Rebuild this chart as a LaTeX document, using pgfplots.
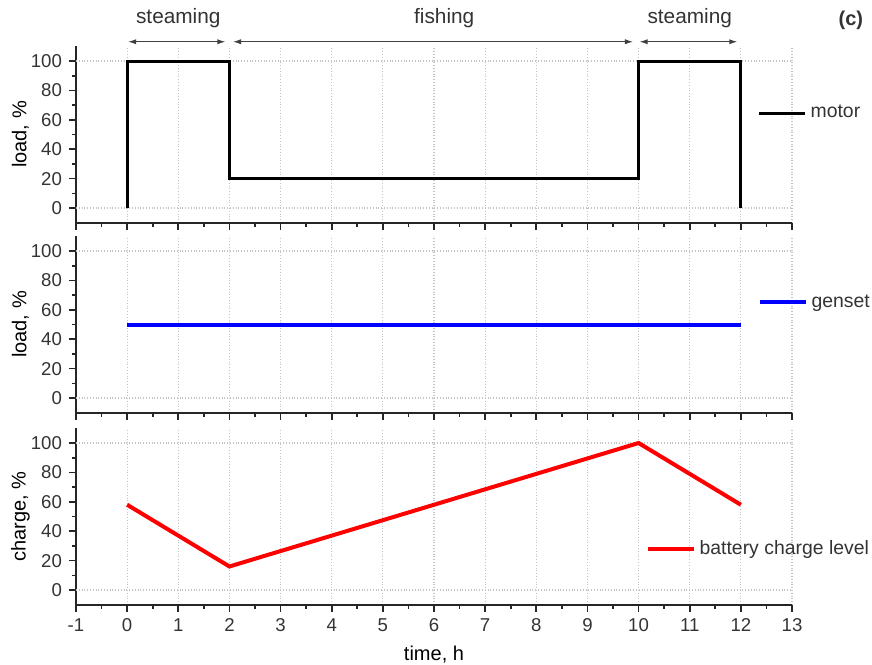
\documentclass[border=0pt]{standalone}
\usepackage{pgfplots}
\pgfplotsset{compat=1.18}
\usetikzlibrary{arrows.meta}
\usepackage{fontspec}
\setmainfont{Liberation Sans}

\definecolor{txt}{HTML}{333333}
\definecolor{gridc}{HTML}{C4C4C4}

\pgfplotsset{
 panel/.style={
  scale only axis, width=358pt, height=88.2pt,
  xmin=-1, xmax=13, ymin=-10, ymax=110,
  axis lines=left, axis line style={-, line width=0.9pt, black!85},
  xtick={-1,0,...,13}, ytick={0,20,...,100},
  minor x tick num=1, minor y tick num=1,
  tick align=outside, major tick length=3.5pt, minor tick length=2pt,
  every tick/.style={line width=0.8pt, black!85},
  xmajorgrids, major grid style={densely dotted, gridc, line width=0.6pt},
  extra y ticks={0,100}, extra y tick labels={,},
  extra y tick style={grid=major, major tick length=0pt},
  tick label style={font=\fontsize{9.3}{11}\selectfont, text=txt},
  /pgf/number format/assume math mode=true,
  label style={font=\fontsize{10.4}{12}\selectfont, text=txt},
  every axis y label/.style={at={(axis description cs:-0.0775,0.5)}, rotate=90, anchor=center},
  clip=false,
  legend style={draw=none, fill=none, font=\fontsize{9.7}{12}\selectfont, text=txt, inner sep=0pt},
  legend cell align=left,
  legend image code/.code={\draw[#1] (0pt,0pt) -- (23pt,0pt);},
 }
}

\begin{document}
\begin{tikzpicture}
\useasboundingbox (0,0) rectangle (436pt,-332pt);

% panel 1: motor
\begin{axis}[panel, at={(38pt,-23.15pt)}, anchor=north west,
  xticklabels={}, ylabel={load, \%},
  legend style={at={(axis cs:12.32,64.6)}, anchor=west}]
\addplot[black, line width=1.5pt] coordinates {(0,0) (0,100) (2,100) (2,20) (10,20) (10,100) (12,100) (12,0)};
\addlegendentry{motor}
\node[font=\fontsize{10.4}{12}\selectfont, text=txt] at (axis cs:1,129) {steaming};
\node[font=\fontsize{10.4}{12}\selectfont, text=txt] at (axis cs:6.2,129) {fishing};
\node[font=\fontsize{10.4}{12}\selectfont, text=txt] at (axis cs:11,129) {steaming};
\node[font=\bfseries\fontsize{10}{12}\selectfont, text=txt] at (axis cs:14.15,128) {(c)};
\draw[{Latex[length=4pt,width=2.6pt]}-{Latex[length=4pt,width=2.6pt]}, black!75, line width=0.5pt] (axis cs:0.02,113.1) -- (axis cs:1.92,113.1);
\draw[{Latex[length=4pt,width=2.6pt]}-{Latex[length=4pt,width=2.6pt]}, black!75, line width=0.5pt] (axis cs:2.07,113.1) -- (axis cs:9.89,113.1);
\draw[{Latex[length=4pt,width=2.6pt]}-{Latex[length=4pt,width=2.6pt]}, black!75, line width=0.5pt] (axis cs:10.02,113.1) -- (axis cs:11.93,113.1);
\end{axis}

% panel 2: genset
\begin{axis}[panel, at={(38pt,-118.15pt)}, anchor=north west,
  xticklabels={}, ylabel={load, \%},
  legend style={at={(axis cs:12.32,65)}, anchor=west}]
\addplot[blue, line width=2pt] coordinates {(0,50) (12,50)};
\addlegendentry{genset}
\end{axis}

% panel 3: battery
\begin{axis}[panel, at={(38pt,-214.15pt)}, anchor=north west,
  ylabel={charge, \%}, xlabel={time, h},
  every axis x label/.style={at={(axis description cs:0.5,-0.283)}, anchor=center},
  legend style={at={(axis cs:10.13,27.9)}, anchor=west}]
\addplot[red, line width=2pt] coordinates {(0,58) (2,16) (10,100) (12,58)};
\addlegendentry{battery charge level}
\end{axis}
\end{tikzpicture}
\end{document}
